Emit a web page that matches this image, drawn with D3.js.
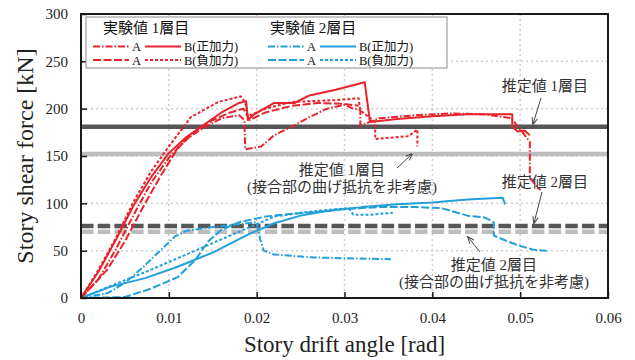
<!DOCTYPE html>
<html>
<head>
<meta charset="utf-8">
<script src="https://cdn.jsdelivr.net/npm/d3@7"></script>
<style>
  body { margin: 0; background: #fff; }
  svg { display: block; }
  .serif { font-family: "Liberation Serif", "DejaVu Serif", serif; }
  .jp { font-family: "Liberation Serif", "Noto Sans CJK JP", serif; }
</style>
</head>
<body>
<svg id="chart" width="635" height="360"></svg>
<script>
// ticks
var xTicks = [0, 0.01, 0.02, 0.03, 0.04, 0.05, 0.06];
var yTicks = [0, 50, 100, 150, 200, 250, 300];

// estimated values (kN)
var est1 = 181, est1NoJoint = 152;
var est2 = 76, est2NoJoint = 70;

// 1層目 (red)  [drift angle rad, shear force kN]
var red_A_pos = [[0,0],[0.002,20],[0.004,52],[0.006,88],[0.008,122],[0.010,148],[0.012,168],[0.014,180],[0.016,190],[0.018,193],[0.0186,188],[0.0187,157],[0.0205,160],[0.022,172],[0.024,181],[0.026,191],[0.028,200],[0.030,204],[0.031,200],[0.0318,199],[0.0318,182],[0.034,190],[0.038,193],[0.042,195],[0.046,194],[0.049,190],[0.0511,165],[0.0511,127],[0.0517,120],[0.0523,114]];
var red_B_pos = [[0,0],[0.002,28],[0.004,62],[0.006,98],[0.008,128],[0.010,153],[0.012,170],[0.014,183],[0.016,196],[0.018,206],[0.0188,208],[0.019,188],[0.0197,194],[0.022,206],[0.0243,206],[0.026,214],[0.029,220],[0.0323,228],[0.0329,186],[0.036,189],[0.040,192],[0.044,194],[0.0491,194],[0.0491,181],[0.0497,176],[0.0505,177],[0.0511,172]];
var red_A_neg = [[0,0],[0.003,30],[0.005,60],[0.007,95],[0.009,128],[0.011,158],[0.013,176],[0.015,188],[0.017,196],[0.0185,200],[0.0192,188],[0.021,196],[0.024,203],[0.027,206],[0.030,205],[0.0316,203]];
var red_B_neg = [[0,0],[0.002,30],[0.004,64],[0.006,102],[0.008,134],[0.010,160],[0.0125,191],[0.0156,207],[0.0182,213],[0.0187,206],[0.019,192],[0.021,200],[0.024,207],[0.0262,208],[0.029,209],[0.0316,211],[0.0318,198],[0.0335,186],[0.0335,168],[0.0373,171],[0.0383,178],[0.0383,160]];

// 2層目 (blue)
var blue_A_pos = [[0,0],[0.003,5],[0.005,16],[0.007,32],[0.009,50],[0.0107,65],[0.012,71],[0.015,75],[0.018,78],[0.020,80],[0.0204,62],[0.0208,50],[0.022,46],[0.026,43],[0.030,42],[0.0353,41]];
var blue_B_pos = [[0,0],[0.0034,12],[0.0073,21],[0.011,33],[0.015,48],[0.019,67],[0.022,79],[0.025,87],[0.028,92],[0.032,96],[0.036,99],[0.040,101],[0.044,104],[0.048,106],[0.0483,99]];
var blue_A_neg = [[0,0],[0.005,1],[0.008,10],[0.011,22],[0.013,40],[0.0145,60],[0.016,72],[0.018,80],[0.021,86],[0.024,89],[0.027,91],[0.030,94],[0.034,96],[0.038,96],[0.041,95],[0.044,87],[0.046,85],[0.047,80],[0.047,66],[0.0485,60],[0.050,55],[0.0515,51],[0.053,50]];
var blue_B_neg = [[0,0],[0.004,15],[0.008,30],[0.012,46],[0.016,62],[0.0195,76],[0.022,86],[0.025,90],[0.028,93],[0.0305,95],[0.031,88],[0.033,88],[0.0355,90]];

var red = "#e8232b", blue = "#22a0da";
var dashA = "7,2,1.5,2", dashAneg = "8,2.5", dashBneg = "3,2";

var margin = {top: 14, right: 27, bottom: 62, left: 81},
    width = 635 - margin.left - margin.right,
    height = 360 - margin.top - margin.bottom;

var svg = d3.select("#chart");
var g = svg.append("g")
    .attr("transform", "translate(" + margin.left + "," + margin.top + ")");

var x = d3.scaleLinear().domain([0, 0.06]).range([0, width]);
var y = d3.scaleLinear().domain([0, 300]).range([height, 0]);

// grid
g.selectAll(".gx")
    .data(xTicks.slice(1, -1))
  .enter().append("line")
    .attr("x1", function(d) { return x(d); })
    .attr("x2", function(d) { return x(d); })
    .attr("y1", 0).attr("y2", height)
    .attr("stroke", "#cfcfcf").attr("stroke-width", 1.5)
    .attr("stroke-dasharray", "2,3");
g.selectAll(".gy")
    .data(yTicks.slice(1, -1))
  .enter().append("line")
    .attr("y1", function(d) { return y(d); })
    .attr("y2", function(d) { return y(d); })
    .attr("x1", 0).attr("x2", width)
    .attr("stroke", "#cfcfcf").attr("stroke-width", 1.5)
    .attr("stroke-dasharray", "2,3");

g.append("clipPath").attr("id", "clip")
  .append("rect").attr("width", width).attr("height", height);

var plot = g.append("g").attr("clip-path", "url(#clip)");

// estimated lines
plot.append("line").attr("x1", 0).attr("x2", width)
    .attr("y1", y(est1)).attr("y2", y(est1))
    .attr("stroke", "#565656").attr("stroke-width", 4.5);
plot.append("line").attr("x1", 0).attr("x2", width)
    .attr("y1", y(est1NoJoint)).attr("y2", y(est1NoJoint))
    .attr("stroke", "#bdbdbd").attr("stroke-width", 4.5);
plot.append("line").attr("x1", 0).attr("x2", width)
    .attr("y1", y(est2NoJoint)).attr("y2", y(est2NoJoint))
    .attr("stroke", "#bdbdbd").attr("stroke-width", 4.5)
    .attr("stroke-dasharray", "12.5,4.2");
plot.append("line").attr("x1", 0).attr("x2", width)
    .attr("y1", y(est2)).attr("y2", y(est2))
    .attr("stroke", "#565656").attr("stroke-width", 4.5)
    .attr("stroke-dasharray", "12.5,4.2");

var line = d3.line()
    .x(function(d) { return x(d[0]); })
    .y(function(d) { return y(d[1]); });

var series = [
  {data: blue_A_neg, color: blue, dash: dashAneg},
  {data: blue_B_neg, color: blue, dash: dashBneg},
  {data: blue_A_pos, color: blue, dash: dashA},
  {data: blue_B_pos, color: blue, dash: null},
  {data: red_A_neg, color: red, dash: dashAneg},
  {data: red_B_neg, color: red, dash: dashBneg},
  {data: red_A_pos, color: red, dash: dashA},
  {data: red_B_pos, color: red, dash: null}
];

plot.selectAll(".series")
    .data(series)
  .enter().append("path")
    .attr("class", "series")
    .attr("d", function(d) { return line(d.data); })
    .attr("fill", "none")
    .attr("stroke", function(d) { return d.color; })
    .attr("stroke-width", 2)
    .attr("stroke-linejoin", "round")
    .attr("stroke-dasharray", function(d) { return d.dash; });

// frame
g.append("rect").attr("width", width).attr("height", height)
    .attr("fill", "none").attr("stroke", "#1a1a1a").attr("stroke-width", 2);

// axes with inward ticks
var xAxis = d3.axisBottom(x).tickValues(xTicks).tickSizeInner(-6).tickSizeOuter(0)
    .tickPadding(14).tickFormat(function(d) { return d === 0 ? "0" : d3.format(".2f")(d); });
var yAxis = d3.axisLeft(y).tickValues(yTicks).tickSizeInner(-6).tickSizeOuter(0)
    .tickPadding(13);

var gx = g.append("g").attr("transform", "translate(0," + height + ")").call(xAxis);
var gy = g.append("g").call(yAxis);
[gx, gy].forEach(function(a) {
  a.select(".domain").remove();
  a.selectAll("line").attr("stroke", "#1a1a1a").attr("stroke-width", 1.5);
  a.selectAll("text").attr("class", "serif").style("font-size", "15px").attr("fill", "#222");
});

// axis titles
svg.append("text").attr("class", "serif")
    .attr("x", margin.left + width / 2).attr("y", 352)
    .attr("text-anchor", "middle").style("font-size", "23px").attr("fill", "#222")
    .text("Story drift angle [rad]");
svg.append("text").attr("class", "serif")
    .attr("transform", "translate(33," + (margin.top + height / 2) + ") rotate(-90)")
    .attr("text-anchor", "middle").style("font-size", "24px").attr("fill", "#222")
    .text("Story shear force [kN]");

// legend
var lg = svg.append("g");
lg.append("rect").attr("x", 86).attr("y", 17).attr("width", 361).attr("height", 51)
    .attr("fill", "#fff").attr("stroke", "#8c8c8c").attr("stroke-width", 1);

var legendTitles = ["実験値 1層目", "実験値 2層目"];
lg.selectAll(".lt")
    .data(legendTitles)
  .enter().append("text").attr("class", "jp")
    .attr("x", function(d, i) { return i === 0 ? 103 : 270; })
    .attr("y", 33)
    .style("font-size", "15px").attr("fill", "#111")
    .text(function(d) { return d; });

var legendItems = [
  {x0: 93, row: 0, color: red, dash: dashA, label: "A"},
  {x0: 145, row: 0, color: red, dash: null, label: "B(正加力)"},
  {x0: 93, row: 1, color: red, dash: dashAneg, label: "A"},
  {x0: 145, row: 1, color: red, dash: dashBneg, label: "B(負加力)"},
  {x0: 268, row: 0, color: blue, dash: dashA, label: "A"},
  {x0: 320, row: 0, color: blue, dash: null, label: "B(正加力)"},
  {x0: 268, row: 1, color: blue, dash: dashAneg, label: "A"},
  {x0: 320, row: 1, color: blue, dash: dashBneg, label: "B(負加力)"}
];
var li = lg.selectAll(".li")
    .data(legendItems)
  .enter().append("g")
    .attr("transform", function(d) { return "translate(" + d.x0 + "," + (46.5 + d.row * 13.5) + ")"; });
li.append("line").attr("x1", 0).attr("x2", 36).attr("y1", 0).attr("y2", 0)
    .attr("stroke", function(d) { return d.color; }).attr("stroke-width", 2)
    .attr("stroke-dasharray", function(d) { return d.dash; });
li.append("text").attr("class", "jp")
    .attr("x", 39).attr("y", 4.5)
    .style("font-size", "12.5px").attr("fill", "#111")
    .text(function(d) { return d.label; });

// annotations
var notes = [
  {x: 545, y: 91, lines: ["推定値 1層目"], arrow: [541, 98, 533, 124]},
  {x: 342, y: 175, lines: ["推定値 1層目", "(接合部の曲げ抵抗を非考慮)"], arrow: [397, 168, 412, 154]},
  {x: 545, y: 187, lines: ["推定値 2層目"], arrow: [542, 192, 534, 223]},
  {x: 494, y: 270, lines: ["推定値 2層目", "(接合部の曲げ抵抗を非考慮)"], arrow: [480, 252, 468, 237]}
];
svg.append("defs").append("marker").attr("id", "arr")
    .attr("viewBox", "0 0 10 10").attr("refX", 9).attr("refY", 5)
    .attr("markerWidth", 7).attr("markerHeight", 7).attr("orient", "auto")
  .append("path").attr("d", "M0,1 L10,5 L0,9").attr("fill", "none")
    .attr("stroke", "#444").attr("stroke-width", 1.4);

notes.forEach(function(n) {
  var t = svg.append("text").attr("class", "jp")
      .attr("text-anchor", "middle").style("font-size", "15px").attr("fill", "#333");
  n.lines.forEach(function(s, i) {
    t.append("tspan").attr("x", n.x).attr("y", n.y + i * 17).text(s);
  });
  svg.append("line")
      .attr("x1", n.arrow[0]).attr("y1", n.arrow[1])
      .attr("x2", n.arrow[2]).attr("y2", n.arrow[3])
      .attr("stroke", "#444").attr("stroke-width", 1)
      .attr("marker-end", "url(#arr)");
});
</script>
</body>
</html>
